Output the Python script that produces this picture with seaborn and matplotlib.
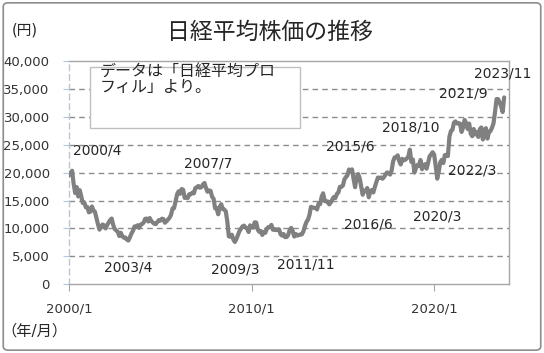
import numpy as np
import pandas as pd
import matplotlib
matplotlib.use("Agg")
import matplotlib.pyplot as plt
import matplotlib.patches as mpatches
import seaborn as sns

# Nikkei 225 month-end closes (yen)
nikkei_2000s = [
    19540, 19960, 20337, 17974, 16332, 17411, 15727, 16861, 15747, 14539, 14649, 13786,
    13844, 12884, 12999, 13934, 13262, 12969, 11861, 10714, 9775, 10366, 10697, 10543,
    9998, 10588, 11025, 11493, 11764, 10622, 9877, 9619, 9383, 8640, 9216, 8579,
    8340, 8363, 7973, 7831, 8425, 9083, 9563, 10344, 10219, 10560, 10101, 10677,
    10784, 11042, 11715, 11762, 11236, 11859, 11326, 11082, 10824, 10771, 11131, 11489,
    11388, 11741, 11669, 11009, 11277, 11584, 11900, 12414, 13574, 13607, 14872, 16111,
    16650, 16205, 17060, 16906, 15467, 15505, 15457, 16141, 16128, 16399, 16274, 17226,
    17383, 17604, 17288, 17400, 17876, 18138, 17249, 16569, 16786, 16737, 15681, 15308,
    13592, 13603, 12526, 13850, 14339, 13481, 13377, 13073, 11260, 8577, 8512, 8860,
    7994, 7568, 8110, 8828, 9523, 9958, 10357, 10493, 10133, 10035, 9346, 10546,
]
nikkei_2010s = [
    10198, 10126, 11090, 11057, 9769, 9383, 9537, 8824, 9369, 9202, 9937, 10229,
    10238, 10624, 9755, 9850, 9693, 9816, 9833, 8955, 8700, 8988, 8435, 8455,
    8803, 9723, 10084, 9521, 8543, 9007, 8695, 8840, 8870, 8928, 9446, 10395,
    11139, 11559, 12398, 13861, 13775, 13677, 13668, 13389, 14456, 14328, 15662, 16291,
    14915, 14841, 14828, 14304, 14632, 15162, 15621, 15425, 16174, 16414, 17460, 17451,
    17674, 18798, 19207, 19520, 20563, 20236, 20585, 18890, 17388, 19083, 19747, 19034,
    17518, 16027, 16759, 16666, 17235, 15576, 16569, 16887, 16450, 17425, 18308, 19114,
    19041, 19119, 18909, 19197, 19651, 20033, 19925, 19646, 20356, 22012, 22725, 22765,
    23098, 22068, 21454, 22468, 22202, 22305, 22554, 22865, 24120, 21920, 22351, 20015,
    20773, 21385, 21206, 22259, 20601, 21276, 21522, 20704, 21756, 22927, 23294, 23657,
]
nikkei_2020s = [
    23205, 21143, 18917, 20194, 21878, 22288, 21710, 23140, 23185, 22977, 26434, 27444,
    27663, 28966, 29179, 28813, 28860, 28792, 27284, 28090, 29453, 28893, 27822, 28792,
    27002, 26527, 27821, 26848, 27280, 26393, 27802, 28092, 25937, 27587, 27969, 26095,
    27327, 27446, 28041, 28856, 30888, 33189, 33172, 32619, 31858, 30859, 33486,
]

tick_labels = ["2000/1", "2010/1", "2020/1"]
event_labels = ["2000/4", "2007/7", "2003/4", "2009/3", "2011/11", "2016/6",
                "2020/3", "2015/6", "2018/10", "2022/3", "2021/9", "2023/11"]
# where each label sits (month index, yen)
event_pos = [(18.4, 24000), (91.4, 21700), (38.8, 3050), (109, 2700), (155.8, 3600),
             (196.6, 10750), (242, 12200), (184.7, 24750), (224.9, 28150),
             (265, 20450), (259, 34250), (285.3, 37850)]

values = nikkei_2000s + nikkei_2010s + nikkei_2020s
df = pd.DataFrame({"month": np.arange(len(values)), "price": values})

sns.set_style("white")
plt.rcParams["font.family"] = ["DejaVu Sans", "Noto Sans CJK JP"]

fig = plt.figure(figsize=(5.44, 3.53), dpi=100)
ax = fig.add_axes([0.127, 0.195, 0.809, 0.632])

for y in range(5000, 40000, 5000):
    ax.axhline(y, color="#8c8c8c", lw=1, ls=(0, (4, 3)), zorder=1)

sns.lineplot(data=df, x="month", y="price", color="#808080", lw=3, ax=ax, zorder=3)

ax.set_xlim(0, 289.3)
ax.set_ylim(0, 40000)
ax.set_yticks(range(0, 40001, 5000))
ax.set_yticklabels([f"{v:,}" for v in range(0, 40001, 5000)])
ax.set_xticks([0, 120, 240])
ax.set_xticklabels(tick_labels)
ax.set_xlabel("")
ax.set_ylabel("")

for side in ["top", "right", "bottom"]:
    ax.spines[side].set_color("#a6a6a6")
    ax.spines[side].set_linewidth(1)
ax.spines["left"].set_color("#b4c6e0")
ax.spines["left"].set_linestyle((0, (4, 3)))
ax.spines["left"].set_linewidth(1)

ax.tick_params(axis="y", left=True, length=4, color="#b4c6e0", pad=10,
               labelsize=9.5, labelcolor="#333333")
ax.tick_params(axis="x", bottom=True, length=5, color="#a6a6a6", pad=8,
               labelsize=9.5, labelcolor="#333333")

for lab, (xp, yp) in zip(event_labels, event_pos):
    ax.text(xp, yp, lab, ha="center", va="center", fontsize=10, color="#262626", zorder=4)

fig.text(0.497, 0.907, "日経平均株価の推移", ha="center", va="center",
         fontsize=16.5, color="#262626")
fig.text(0.022, 0.915, "(円)", ha="left", va="center", fontsize=10.5, color="#262626")
fig.text(0.003, 0.062, "（年/月）", ha="left", va="center", fontsize=11, color="#262626")

box = mpatches.Rectangle((0.1654, 0.6374), 0.386, 0.1728, transform=fig.transFigure,
                         facecolor="white", edgecolor="#bfbfbf", lw=1, zorder=5)
fig.patches.append(box)
fig.text(0.184, 0.773, "データは「日経平均プロ\nフィル」より。", ha="left", va="center",
         fontsize=11.5, color="#262626", linespacing=1.05, zorder=6)

frame = mpatches.FancyBboxPatch((0.006, 0.008), 0.988, 0.984,
                                boxstyle="round,pad=0,rounding_size=0.01",
                                transform=fig.transFigure, facecolor="none",
                                edgecolor="#8c8c8c", lw=1.2)
fig.patches.append(frame)

fig.savefig("out.png", dpi=100)
